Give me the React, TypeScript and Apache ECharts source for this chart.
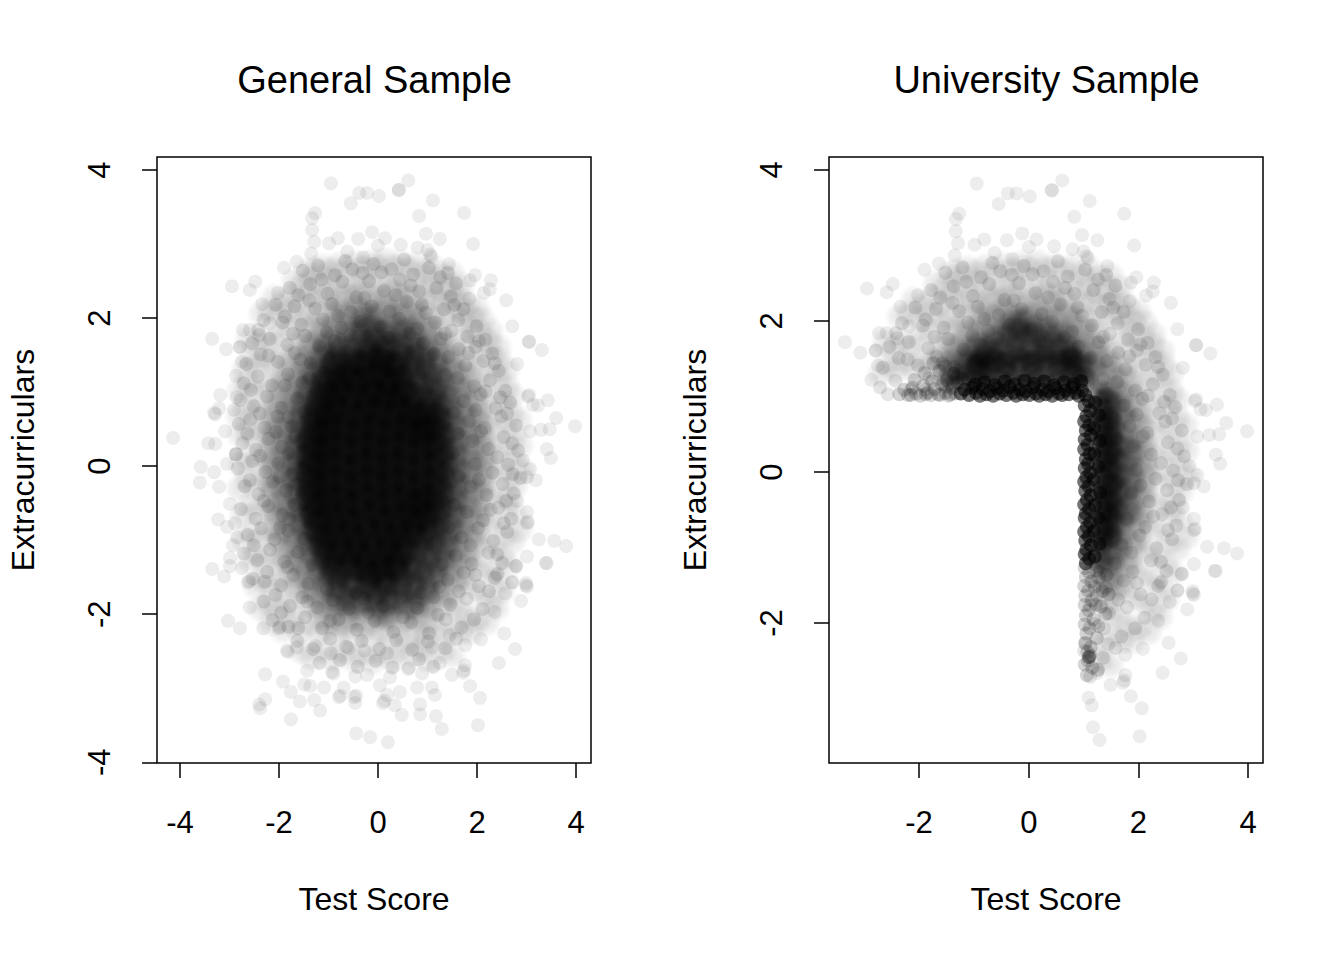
import React, { useEffect, useRef } from "react";
import * as echarts from "echarts";

type P = [number, number];

const generalTitle = "General Sample";
const universityTitle = "University Sample";
const xName = "Test Score";
const yName = "Extracurriculars";
const generalXTicks = [-4, -2, 0, 2, 4];
const generalYTicks = [-4, -2, 0, 2, 4];
const universityXTicks = [-2, 0, 2, 4];
const universityYTicks = [-2, 0, 2, 4];

// isolated observations at the rim of the cloud
const sparsePoints: P[] = [
[-0.95,3.82],[-0.38,3.69],[-0.22,3.69],[0.02,3.65],[-0.55,3.55],[0.42,3.73],[0.42,3.73],[0.61,3.86],[1.11,3.59],[0.83,3.38],[1.74,3.42],[-1.27,3.42],[-1.33,3.35],[-1.33,3.19],[-1.29,3.03],[-0.99,3.01],[-0.81,3.08],[-0.4,3.07],[-0.12,3.16],[0.14,3.08],[0.46,2.99],[0.97,3.14],[1.25,3.07],[1.92,3.0],[0.0,2.98],[0.8,2.95],[1.0,2.92],[1.05,2.86],[1.08,2.83],[-0.62,2.9],[-0.3,2.82],
[-1.9,2.68],[-1.64,2.76],[-1.35,2.87],[-2.95,2.43],[-2.48,2.49],[-2.59,2.38],[-2.34,2.19],[-3.35,1.72],[-3.07,1.58],[2.59,2.24],[2.71,1.89],[3.05,1.68],[3.31,1.57],[2.28,2.51],[1.96,2.58],[1.86,2.51],[2.26,2.39],[2.14,2.34],[1.84,2.26],[1.43,2.73],[-2.02,2.34],[-2.18,1.93],[-2.73,1.84],[-2.59,1.84],[-2.4,1.77],[-2.79,1.61],
[0.2,-3.73],[-0.16,-3.66],[-0.44,-3.61],[1.29,-3.55],[2.02,-3.5],[-1.76,-3.42],[-1.17,-3.3],[-2.38,-3.27],[-2.4,-3.22],[-2.28,-3.15],[-1.58,-3.18],[-1.29,-3.16],[-1.76,-3.05],[-1.92,-2.91],[-2.28,-2.81],[-1.49,-2.95],[-1.37,-2.97],[-1.09,-2.99],[-1.43,-2.76],[-0.93,-2.78],[-0.9,-2.8],[-0.79,-3.12],[-0.76,-3.1],[-0.69,-2.99],[-0.46,-3.2],[-0.48,-3.12],[-0.44,-3.1],[-0.46,-2.84],[-0.22,-2.82],[0.04,-2.96],[0.1,-3.2],[0.13,-3.17],[0.18,-3.09],[0.34,-3.23],[0.48,-3.36],[0.85,-3.22],[0.85,-3.35],[1.17,-3.38],[1.15,-3.09],[1.09,-2.99],[0.79,-2.99],[0.44,-3.05],[0.61,-2.74],[0.63,-2.72],[1.49,-2.82],[1.74,-2.76],[1.72,-2.79],[1.76,-2.69],[1.86,-2.97],[2.06,-3.13],[2.44,-2.66],[2.77,-2.47],[2.55,-2.26],[2.36,-1.97],[2.89,-1.82],[2.57,-1.72],[2.99,-1.61],[3.01,-1.63],[2.71,-1.57],[2.4,-1.47],[2.42,-1.45],[2.79,-1.35],[3.39,-1.31],
[-3.35,-1.39],[-3.11,-1.49],[-2.63,-1.57],[-2.6,-1.55],[-2.59,-1.91],[-3.03,-2.09],[-2.79,-2.19],[-2.32,-2.19],[-2.0,-2.19],[-1.98,-2.17],[-1.84,-2.49],[-1.82,-2.51],[-1.64,-2.45],[-1.27,-2.43],[-0.95,-2.53],[-0.59,-2.46],[-0.28,-2.49],[0.18,-2.53],[1.09,-2.45],[2.08,-2.34],[1.76,-2.42],[1.45,-2.28],[1.25,-2.66],[0.89,-2.8],[0.24,-2.85],
[-2.79,1.61],[-2.75,1.41],[-2.87,1.22],[-3.19,0.96],[-2.85,0.93],[-3.31,0.72],[-3.29,0.7],[-3.21,0.78],[-2.91,0.76],[-4.14,0.38],[-3.09,0.47],[-3.43,0.31],[-3.29,0.3],[-2.87,0.16],[-2.87,0.16],[-2.87,0.16],[-3.05,0.03],[-3.58,-0.01],[-3.31,-0.08],[-3.6,-0.22],[-3.21,-0.28],[-2.99,-0.51],[-3.23,-0.72],[-3.05,-0.82],[-2.89,-0.77],[-2.85,-0.96],[-2.93,-1.07],[-2.99,-1.24],[-2.99,-1.35],[-2.75,-1.38],
[3.05,1.68],[2.81,1.38],[3.05,0.96],[3.03,0.94],[3.43,0.89],[3.23,0.82],[3.13,0.83],[3.6,0.65],[3.98,0.54],[3.07,0.47],[3.29,0.49],[3.47,0.5],[3.41,0.23],[3.49,0.11],[3.07,-0.04],[2.93,0.08],[3.19,-0.19],[3.01,-0.15],[2.81,-0.47],[3.01,-0.62],[3.01,-0.77],[3.03,-0.75],[3.25,-0.99],[3.56,-1.01],[3.8,-1.08],[3.41,-1.31],[3.01,-1.22],[2.79,-1.35],[2.71,-1.57],[2.99,-1.58],
];

// single overlapping observations that give the outer body its mottled look
const texturePoints: P[] = [
[-1.52,2.64],[-1.21,2.71],[-0.87,2.58],[-0.66,2.77],[-0.31,2.61],[-0.09,2.73],[0.27,2.66],[0.53,2.79],[0.71,2.59],[1.03,2.68],[1.26,2.55],[1.58,2.47],[-1.78,2.41],[-1.37,2.46],[-1.02,2.33],[-0.72,2.49],[-0.44,2.28],[-0.18,2.5],[0.12,2.37],[0.44,2.52],[0.83,2.36],[1.18,2.41],[1.47,2.29],[1.73,2.12],[-2.07,2.18],[-1.69,2.16],[-1.27,2.13],[-0.93,2.19],[-0.55,2.08],[-0.13,2.16],[0.24,2.09],[0.58,2.22],[0.97,2.07],[1.33,2.12],[1.62,1.97],[1.99,1.89],[-2.31,1.97],[-1.93,1.94],[-1.55,1.91],[-1.11,1.98],[-0.74,1.87],[-0.36,1.95],[0.05,1.88],[0.43,1.99],[0.79,1.86],[1.15,1.94],[1.48,1.83],[1.81,1.75],[2.17,1.71],
[-2.54,1.66],[-2.19,1.72],[-1.83,1.64],[-1.47,1.76],[-1.19,1.62],[-0.88,1.69],[0.91,1.66],[1.27,1.72],[1.63,1.58],[1.97,1.61],[2.31,1.52],[-2.66,1.38],[-2.37,1.51],[-2.02,1.41],[-1.68,1.53],[-1.36,1.39],[1.42,1.47],[1.76,1.36],[2.13,1.42],[2.44,1.29],[-2.71,1.12],[-2.43,1.21],[-2.14,1.09],[-1.82,1.24],[-1.53,1.13],[1.61,1.19],[1.94,1.08],[2.26,1.16],[2.57,1.02],[-2.78,0.89],[-2.51,0.81],[-2.24,0.94],[-1.95,0.79],[-1.63,0.91],[1.73,0.88],[2.07,0.97],[2.38,0.78],[2.67,0.86],
[-2.81,0.57],[-2.58,0.63],[-2.29,0.52],[-2.03,0.67],[-1.74,0.54],[1.84,0.61],[2.16,0.52],[2.49,0.67],[2.79,0.55],[-2.74,0.31],[-2.47,0.22],[-2.21,0.37],[-1.94,0.26],[-1.67,0.41],[1.91,0.34],[2.23,0.23],[2.54,0.39],[2.83,0.21],[-2.83,-0.03],[-2.54,0.07],[-2.27,-0.08],[-2.01,0.04],[-1.72,-0.11],[1.96,0.03],[2.31,-0.09],[2.63,0.02],[2.88,-0.16],
[-2.69,-0.27],[-2.41,-0.38],[-2.13,-0.21],[-1.86,-0.33],[-1.64,-0.24],[1.87,-0.28],[2.19,-0.39],[2.52,-0.24],[2.74,-0.37],[-2.77,-0.58],[-2.47,-0.71],[-2.22,-0.54],[-1.93,-0.66],[-1.69,-0.52],[1.79,-0.62],[2.12,-0.73],[2.43,-0.56],[2.69,-0.71],[-2.63,-0.93],[-2.36,-0.84],[-2.09,-0.99],[-1.81,-0.87],[1.69,-0.96],[2.02,-0.84],[2.33,-1.01],[2.61,-0.89],[-2.71,-1.18],[-2.44,-1.27],[-2.18,-1.13],[-1.89,-1.29],[-1.62,-1.16],[1.57,-1.21],[1.89,-1.32],[2.23,-1.17],[2.51,-1.31],
[-2.53,-1.52],[-2.24,-1.43],[-1.96,-1.61],[-1.71,-1.47],[-1.41,-1.59],[1.41,-1.53],[1.73,-1.44],[2.04,-1.62],[2.36,-1.51],[-2.31,-1.83],[-2.07,-1.74],[-1.78,-1.89],[-1.53,-1.77],[-1.22,-1.91],[-0.91,-1.81],[-0.58,-1.93],[-0.27,-1.79],[0.11,-1.89],[0.47,-1.78],[0.79,-1.92],[1.12,-1.77],[1.46,-1.87],[1.79,-1.79],[2.11,-1.93],[-2.13,-2.08],[-1.81,-2.17],[-1.47,-2.04],[-1.13,-2.19],[-0.79,-2.07],[-0.43,-2.21],[-0.07,-2.09],[0.31,-2.24],[0.67,-2.11],[1.03,-2.26],[1.37,-2.07],[1.69,-2.18],[1.94,-2.07],
[-1.63,-2.36],[-1.31,-2.47],[-0.97,-2.33],[-0.64,-2.44],[-0.33,-2.36],[0.03,-2.47],[0.37,-2.35],[0.69,-2.48],[1.01,-2.37],[1.36,-2.46],[-1.18,-2.66],[-0.77,-2.62],[-0.41,-2.71],[-0.05,-2.63],[0.29,-2.72],[0.83,-2.61],[1.12,-2.71],
[-1.61,2.31],[-1.14,2.52],[-0.52,2.66],[0.07,2.62],[0.66,2.44],[1.41,2.61],[-1.88,2.02],[-1.39,2.24],[-0.81,2.03],[-0.27,2.27],[0.35,2.31],[0.89,2.18],[1.54,2.18],[-2.42,1.84],[-1.72,1.79],[-1.03,1.81],[-0.56,1.77],[0.21,1.73],[0.64,1.79],[1.36,1.79],[2.04,1.69],[-2.21,1.49],[-1.57,1.44],[-0.97,1.46],[1.13,1.51],[1.83,1.53],[2.36,1.39],[-2.57,1.03],[-1.88,1.09],[-1.38,1.19],[1.36,1.23],[2.17,1.01],[2.47,0.93],[-2.39,0.71],[-1.81,0.66],[-1.49,0.73],[1.53,0.72],[1.97,0.76],[2.61,0.71],[-2.64,0.44],[-2.06,0.46],[-1.56,0.33],[1.61,0.44],[2.08,0.47],[2.71,0.31],[-2.38,0.14],[-1.81,0.17],[-1.49,-0.03],[1.51,0.17],[2.41,0.12],[2.72,-0.11],[-2.59,-0.19],[-1.99,-0.14],[-1.53,-0.37],[1.63,-0.14],[2.04,-0.18],[2.59,-0.47],[-2.31,-0.47],[-1.79,-0.71],[-1.44,-0.63],[1.54,-0.52],[2.27,-0.59],[2.54,-0.77],[-2.51,-1.07],[-1.98,-0.83],[-1.49,-0.98],[1.43,-0.83],[1.87,-1.07],[2.41,-1.19],[-2.29,-1.56],[-1.83,-1.36],[-1.33,-1.34],[1.29,-1.33],[1.97,-1.47],[2.24,-1.69],[-1.96,-1.98],[-1.43,-1.83],[-1.03,-1.66],[-0.44,-1.71],[0.26,-1.67],[0.87,-1.71],[1.24,-1.63],[1.63,-1.69],[-1.61,-2.19],[-0.97,-2.09],[-0.19,-1.98],[0.51,-2.04],[1.21,-2.01],[1.58,-2.33],
];

// outer-band density
const thinPoints: P[] = [
[-1.45,2.62],[-1.3,2.66],[-1.12,2.7],[-0.95,2.64],[-0.8,2.72],[-0.62,2.68],[-0.45,2.74],[-0.3,2.66],[-0.14,2.76],[-0.02,2.7],[0.16,2.78],[0.3,2.68],[0.48,2.74],[0.62,2.66],[0.8,2.72],[0.97,2.62],[1.12,2.68],[1.3,2.58],[1.5,2.6],[1.68,2.44],
[-1.7,2.5],[-1.52,2.42],[-1.34,2.5],[-1.16,2.44],[-0.98,2.52],[-0.82,2.4],[-0.66,2.5],[-0.48,2.42],[-0.3,2.52],[-0.12,2.44],[0.06,2.54],[0.22,2.42],[0.4,2.5],[0.58,2.4],[0.76,2.5],[0.92,2.4],[1.1,2.46],[1.28,2.38],[1.46,2.42],[1.62,2.3],[1.8,2.2],[2.0,2.12],
[-2.1,2.28],[-1.92,2.2],[-1.74,2.3],[-1.58,2.22],[-1.4,2.3],[-1.22,2.24],[-1.04,2.3],[-0.86,2.22],[0.96,2.22],[1.14,2.26],[1.32,2.2],[1.5,2.24],[1.7,2.1],[1.9,2.0],[2.12,1.98],[2.28,1.82],
[-2.36,2.06],[-2.16,2.1],[-1.98,2.02],[-1.78,2.08],[-1.6,2.0],[-1.42,2.06],[1.3,2.02],[1.5,2.06],[1.68,1.94],[1.88,1.84],[2.06,1.8],[2.26,1.68],[2.44,1.6],
[-2.62,1.72],[-2.46,1.62],[-2.3,1.74],[-2.14,1.66],[-1.96,1.78],[-1.8,1.86],[1.72,1.72],[1.9,1.62],[2.08,1.56],[2.28,1.48],[2.46,1.42],[2.6,1.3],
[-2.7,1.3],[-2.56,1.44],[-2.42,1.34],[-2.26,1.46],[-2.1,1.36],[-1.94,1.5],[1.88,1.38],[2.06,1.3],[2.24,1.22],[2.42,1.18],[2.6,1.08],[2.72,0.96],
[-2.8,1.02],[-2.64,1.12],[-2.5,0.98],[-2.34,1.12],[-2.18,1.02],[-2.02,1.16],[2.0,1.08],[2.18,0.96],[2.36,0.9],[2.54,0.84],[2.7,0.72],[2.86,0.62],
[-2.82,0.66],[-2.68,0.78],[-2.52,0.66],[-2.38,0.8],[-2.24,0.7],[-2.1,0.86],[2.06,0.74],[2.24,0.66],[2.4,0.58],[2.56,0.5],[2.74,0.4],[2.88,0.28],
[-2.78,0.42],[-2.62,0.48],[-2.46,0.36],[-2.32,0.5],[-2.18,0.38],[-2.08,0.56],[2.1,0.42],[2.26,0.32],[2.44,0.24],[2.6,0.16],[2.76,0.06],[2.9,-0.06],
[-2.76,0.02],[-2.6,0.14],[-2.44,0.04],[-2.3,0.18],[-2.16,0.06],[2.12,0.1],[2.28,0.0],[2.46,-0.08],[2.62,-0.16],[2.78,-0.26],[2.66,-0.42],
[-2.8,-0.3],[-2.64,-0.18],[-2.48,-0.3],[-2.32,-0.16],[-2.16,-0.28],[2.1,-0.24],[2.28,-0.34],[2.44,-0.44],[2.6,-0.56],[2.76,-0.66],[2.88,-0.86],
[-2.74,-0.66],[-2.58,-0.52],[-2.42,-0.64],[-2.26,-0.5],[-2.1,-0.62],[2.08,-0.58],[2.24,-0.7],[2.4,-0.8],[2.56,-0.92],[2.72,-1.02],
[-2.7,-1.0],[-2.54,-0.88],[-2.38,-1.0],[-2.22,-0.86],[-2.06,-0.98],[2.02,-0.92],[2.18,-1.04],[2.34,-1.12],[2.5,-1.22],[2.64,-1.34],
[-2.6,-1.28],[-2.46,-1.18],[-2.3,-1.32],[-2.14,-1.2],[-1.98,-1.34],[1.92,-1.24],[2.08,-1.36],[2.24,-1.44],[2.4,-1.54],[2.52,-1.68],
[-2.48,-1.62],[-2.32,-1.52],[-2.16,-1.64],[-2.0,-1.54],[-1.84,-1.68],[1.76,-1.56],[1.92,-1.66],[2.1,-1.74],[2.26,-1.84],[2.4,-1.92],
[-2.38,-1.92],[-2.2,-1.84],[-2.04,-1.96],[-1.88,-1.86],[-1.72,-1.98],[1.48,-1.84],[1.64,-1.94],[1.82,-2.02],[2.0,-2.08],[2.2,-2.12],
[-2.16,-2.12],[-1.92,-2.22],[-1.74,-2.12],[-1.56,-2.24],[-1.38,-2.12],[-1.2,-2.26],[-1.02,-2.16],[-0.84,-2.28],[-0.66,-2.18],[-0.48,-2.3],[-0.3,-2.2],[-0.12,-2.32],[0.06,-2.22],[0.24,-2.34],[0.42,-2.22],[0.6,-2.36],[0.78,-2.24],[0.96,-2.32],[1.14,-2.18],[1.32,-2.3],[1.5,-2.14],[1.68,-2.24],[1.88,-2.24],
[-1.56,-2.5],[-1.34,-2.58],[-1.12,-2.48],[-0.9,-2.6],[-0.72,-2.5],[-0.5,-2.62],[-0.32,-2.54],[-0.1,-2.64],[0.06,-2.52],[0.3,-2.62],[0.46,-2.5],[0.72,-2.54],[0.9,-2.46],[1.02,-2.62],[1.3,-2.48],[1.5,-2.56],
];

// body density around the core
const mediumPoints: P[] = [
[-0.62,2.2],[-0.3,2.24],[0.02,2.18],[0.32,2.25],[0.62,2.19],
[-1.05,2.02],[-0.76,1.98],[-0.48,2.04],[-0.2,1.97],[0.1,2.03],[0.38,1.96],[0.66,2.03],[0.94,1.98],
[-1.34,1.8],[-1.06,1.76],[-0.78,1.82],[-0.5,1.77],[-0.22,1.83],[0.06,1.76],[0.34,1.82],[0.62,1.77],[0.9,1.83],[1.18,1.77],
[-1.52,1.6],[-1.24,1.56],[-0.96,1.61],[-0.7,1.56],[0.62,1.6],[0.88,1.55],[1.14,1.61],[1.4,1.57],
[-1.66,1.4],[-1.38,1.36],[-1.1,1.42],[-0.86,1.37],[0.84,1.42],[1.1,1.36],[1.36,1.41],[1.62,1.36],
[-1.78,1.2],[-1.5,1.16],[-1.24,1.22],[-1.0,1.17],[0.94,1.21],[1.2,1.15],[1.46,1.2],[1.72,1.15],
[-1.86,1.0],[-1.6,0.96],[-1.34,1.02],[-1.1,0.97],[1.06,1.0],[1.3,0.95],[1.56,1.01],[1.82,0.96],
[-1.94,0.8],[-1.68,0.76],[-1.44,0.82],[-1.2,0.77],[1.14,0.8],[1.38,0.75],[1.64,0.81],[1.9,0.76],
[-1.98,0.6],[-1.74,0.56],[-1.48,0.62],[-1.26,0.57],[1.18,0.6],[1.44,0.55],[1.7,0.61],[1.96,0.56],
[-2.02,0.4],[-1.78,0.36],[-1.54,0.42],[-1.3,0.37],[1.22,0.4],[1.48,0.35],[1.74,0.41],[2.0,0.36],
[-2.04,0.2],[-1.8,0.16],[-1.56,0.22],[-1.32,0.17],[1.24,0.2],[1.5,0.15],[1.76,0.21],[2.02,0.16],
[-2.05,0.0],[-1.82,-0.04],[-1.58,0.02],[-1.34,-0.03],[1.26,0.0],[1.52,-0.05],[1.78,0.01],[2.04,-0.04],
[-2.05,-0.2],[-1.82,-0.24],[-1.58,-0.18],[-1.34,-0.23],[1.24,-0.2],[1.5,-0.25],[1.76,-0.19],[2.0,-0.24],
[-2.03,-0.4],[-1.78,-0.44],[-1.54,-0.38],[-1.3,-0.43],[1.22,-0.4],[1.48,-0.45],[1.74,-0.39],[1.98,-0.44],
[-1.98,-0.6],[-1.74,-0.64],[-1.5,-0.58],[-1.26,-0.63],[1.18,-0.6],[1.44,-0.65],[1.7,-0.59],[1.94,-0.64],
[-1.94,-0.8],[-1.68,-0.84],[-1.44,-0.78],[-1.2,-0.83],[1.12,-0.8],[1.38,-0.85],[1.62,-0.79],[1.88,-0.84],
[-1.86,-1.0],[-1.6,-1.04],[-1.34,-0.98],[-1.1,-1.03],[1.04,-1.0],[1.3,-1.05],[1.54,-0.99],[1.8,-1.04],
[-1.76,-1.2],[-1.5,-1.24],[-1.24,-1.18],[-1.0,-1.23],[0.94,-1.2],[1.2,-1.25],[1.46,-1.19],[1.7,-1.24],
[-1.66,-1.4],[-1.38,-1.44],[-1.1,-1.38],[-0.86,-1.43],[0.8,-1.4],[1.06,-1.45],[1.34,-1.39],[1.6,-1.44],
[-1.52,-1.6],[-1.24,-1.64],[-0.96,-1.58],[-0.7,-1.63],[0.62,-1.6],[0.88,-1.65],[1.14,-1.59],[1.42,-1.64],
[-1.32,-1.8],[-1.04,-1.84],[-0.76,-1.78],[-0.48,-1.83],[-0.2,-1.77],[0.08,-1.82],[0.36,-1.76],[0.64,-1.83],[0.92,-1.78],[1.2,-1.84],
[-1.04,-2.0],[-0.76,-2.04],[-0.48,-1.98],[-0.2,-2.03],[0.1,-1.97],[0.38,-2.03],[0.66,-1.97],[0.94,-2.03],
];

// overlap so heavy in the middle of the general sample that it reads as solid
const corePoints: P[] = [
[-0.35,1.52],[-0.02,1.56],[0.28,1.5],
[-0.72,1.32],[-0.42,1.28],[-0.1,1.34],[0.22,1.27],[0.5,1.33],
[-0.92,1.08],[-0.6,1.1],[-0.28,1.05],[0.03,1.1],[0.34,1.04],[0.66,1.09],
[-1.02,0.84],[-0.72,0.87],[-0.4,0.82],[-0.08,0.88],[0.22,0.83],[0.54,0.86],[0.84,0.81],
[-1.12,0.6],[-0.82,0.63],[-0.5,0.58],[-0.18,0.64],[0.14,0.59],[0.46,0.63],[0.78,0.57],[1.0,0.62],
[-1.18,0.36],[-0.86,0.4],[-0.54,0.35],[-0.22,0.41],[0.1,0.36],[0.42,0.4],[0.74,0.35],[1.04,0.39],
[-1.2,0.12],[-0.88,0.16],[-0.56,0.11],[-0.24,0.17],[0.08,0.12],[0.4,0.16],[0.72,0.11],[1.06,0.15],
[-1.2,-0.12],[-0.88,-0.08],[-0.56,-0.13],[-0.24,-0.07],[0.08,-0.12],[0.4,-0.08],[0.72,-0.13],[1.06,-0.09],
[-1.18,-0.36],[-0.86,-0.32],[-0.54,-0.37],[-0.22,-0.31],[0.1,-0.36],[0.42,-0.32],[0.74,-0.37],[1.04,-0.33],
[-1.14,-0.6],[-0.82,-0.56],[-0.5,-0.61],[-0.18,-0.55],[0.14,-0.6],[0.46,-0.56],[0.78,-0.61],[1.0,-0.57],
[-1.04,-0.84],[-0.72,-0.8],[-0.4,-0.85],[-0.08,-0.79],[0.24,-0.84],[0.56,-0.8],[0.86,-0.85],
[-0.92,-1.08],[-0.6,-1.04],[-0.28,-1.09],[0.04,-1.03],[0.36,-1.08],[0.66,-1.04],
[-0.74,-1.32],[-0.42,-1.28],[-0.1,-1.33],[0.22,-1.27],[0.52,-1.32],
[-0.36,-1.52],[-0.02,-1.56],[0.28,-1.5],
];

// stacked observations hugging the selection edges of the university sample
const edgeDensePoints: P[] = [
[-1.24,1.04],[-1.17,1.09],[-1.09,1.02],[-1.03,1.12],[-0.96,1.05],[-0.89,1.01],[-0.84,1.1],[-0.77,1.03],[-0.71,1.07],[-0.65,1.01],[-0.58,1.11],[-0.53,1.04],[-0.46,1.08],[-0.41,1.02],[-0.35,1.13],[-0.28,1.05],[-0.23,1.01],[-0.17,1.09],[-0.11,1.03],[-0.05,1.07],[0.01,1.02],[0.07,1.12],[0.13,1.04],[0.19,1.01],[0.25,1.09],[0.31,1.03],[0.37,1.07],[0.43,1.01],[0.49,1.11],[0.55,1.04],[0.61,1.02],[0.67,1.08],[0.73,1.03],[0.79,1.12],[0.85,1.05],[0.91,1.01],[0.97,1.08],
[-0.98,1.16],[-0.81,1.19],[-0.62,1.15],[-0.44,1.2],[-0.26,1.16],[-0.08,1.21],[0.1,1.17],[0.28,1.2],[0.46,1.15],[0.64,1.19],[0.82,1.16],[0.96,1.2],
[1.03,1.02],[1.09,0.94],[1.02,0.88],[1.12,0.81],[1.05,0.74],[1.01,0.67],[1.1,0.62],[1.04,0.55],[1.13,0.49],[1.02,0.43],[1.07,0.36],[1.01,0.3],[1.11,0.24],[1.04,0.17],[1.08,0.11],[1.02,0.05],[1.12,-0.01],[1.05,-0.07],[1.01,-0.13],[1.09,-0.19],[1.03,-0.25],[1.13,-0.31],[1.06,-0.37],[1.01,-0.43],[1.1,-0.49],[1.04,-0.55],[1.02,-0.61],[1.12,-0.67],[1.06,-0.73],[1.01,-0.79],[1.09,-0.85],[1.03,-0.91],[1.13,-0.97],[1.05,-1.03],[1.02,-1.09],[1.1,-1.15],[1.04,-1.21],
[1.21,0.92],[1.28,0.75],[1.19,0.58],[1.3,0.41],[1.2,0.24],[1.27,0.07],[1.18,-0.1],[1.3,-0.27],[1.21,-0.44],[1.27,-0.61],[1.19,-0.78],[1.29,-0.95],[1.2,-1.12],
];

// the fading tips of the two edges
const edgeFaintPoints: P[] = [
[-2.36,1.03],[-2.27,1.09],[-2.2,1.02],[-2.12,1.12],[-2.05,1.04],[-1.98,1.01],[-1.92,1.14],[-1.85,1.05],[-1.78,1.02],[-1.72,1.1],[-1.65,1.03],[-1.58,1.16],[-1.52,1.05],[-1.46,1.01],[-1.4,1.11],[-1.34,1.04],[-1.29,1.18],[-2.15,1.02],[-1.88,1.03],[-1.62,1.02],[-1.43,1.03],
[-2.08,1.22],[-1.9,1.31],[-1.76,1.2],[-1.63,1.34],[-1.49,1.22],[-1.37,1.3],[-1.22,1.24],[-1.74,1.44],[-1.52,1.4],
[1.02,-1.27],[1.1,-1.33],[1.04,-1.39],[1.14,-1.45],[1.01,-1.51],[1.08,-1.57],[1.03,-1.64],[1.15,-1.7],[1.02,-1.76],[1.09,-1.83],[1.04,-1.9],[1.18,-1.95],[1.02,-2.02],[1.11,-2.07],[1.05,-2.14],[1.24,-2.2],[1.03,-2.27],[1.13,-2.32],[1.07,-2.38],[1.1,-2.45],[1.1,-2.45],[1.12,-2.43],[1.08,-2.5],[1.02,-2.55],[1.16,-2.59],[1.28,-1.4],[1.34,-1.58],[1.22,-1.76],[1.4,-1.88],[1.27,-2.04],[1.06,-2.69],[1.26,-2.62],
[1.24,-1.3],[1.42,-1.36],[1.2,-1.52],[1.46,-1.62],[1.32,-1.78],
];

// dark mass just inside the two edges
const edgeBlobPoints: P[] = [
[-1.42,1.22],[-1.2,1.26],[-0.98,1.21],[-0.78,1.27],[-0.58,1.22],[-0.38,1.28],[-0.18,1.22],[0.02,1.27],[0.22,1.22],[0.42,1.27],[0.62,1.22],[0.82,1.27],[1.02,1.22],
[-0.9,1.44],[-0.66,1.48],[-0.42,1.43],[-0.18,1.5],[0.06,1.44],[0.3,1.5],[0.54,1.44],[0.78,1.48],
[1.3,1.05],[1.3,0.82],[1.44,0.94],[1.3,0.6],[1.46,0.7],[1.3,0.38],[1.46,0.48],[1.3,0.16],[1.46,0.26],[1.3,-0.06],[1.46,0.04],[1.3,-0.28],[1.46,-0.18],[1.3,-0.5],[1.46,-0.4],[1.3,-0.72],[1.46,-0.62],[1.3,-0.94],[1.46,-0.84],[1.3,-1.16],
];

// softer shoulder of the mass further from the edges
const shoulderPoints: P[] = [
[-1.3,1.42],[-1.05,1.36],[-0.8,1.44],[-0.55,1.36],[-0.3,1.44],[-0.05,1.36],[0.2,1.44],[0.45,1.36],[0.7,1.44],[0.95,1.36],
[-0.5,1.54],[-0.2,1.56],[0.05,1.54],[0.3,1.56],
[-0.85,1.62],[-0.6,1.68],[-0.35,1.6],[-0.1,1.7],[0.15,1.6],[0.4,1.68],[0.65,1.6],
[-0.3,1.88],[-0.05,1.95],[0.2,1.86],
[1.42,0.95],[1.6,0.78],[1.42,0.6],[1.62,0.42],[1.42,0.25],[1.64,0.08],[1.42,-0.1],[1.62,-0.28],[1.42,-0.45],[1.6,-0.62],[1.42,-0.8],[1.56,-0.98],[1.42,-1.15],[1.8,0.25],[1.8,-0.12],[1.78,-0.48],[1.4,-1.4],
];

const coreSize = 50;
const mediumSize = 42;
const innerSize = 38;
const thinSize = 30;
const edgeBlobSize = 30;
const shoulderSize = 40;
const dotSize = 14;

const inUniversity = (p: P) => p[0] >= 1 || p[1] >= 1;
// a soft mass of radius r px stays inside the selected region
const massInUniversity = (size: number) => (p: P) => p[1] >= 1 + size / 2 / 75.5 || p[0] >= 1 + size / 2 / 54.8;
// the part of the body nearest the core is darker
const innerBody = (p: P) => (p[0] / 1.7) ** 2 + (p[1] / 2.0) ** 2 < 1;

const font = "'Liberation Sans', Arimo, Helvetica, Arial, sans-serif";

function axisCommon(ticks: number[], min: number, max: number, name: string, gap: number, gridIndex: number, rotate: number, margin: number) {
  return {
    type: "value" as const,
    gridIndex,
    min,
    max,
    name,
    nameLocation: "middle" as const,
    nameGap: gap,
    nameMoveOverlap: false,
    nameTextStyle: { color: "#000", fontSize: 32, fontFamily: font },
    splitLine: { show: false },
    axisLine: { show: false, onZero: false },
    axisTick: { show: true, length: 15, inside: false, customValues: ticks, lineStyle: { color: "#000", width: 1.5 } },
    axisLabel: { show: true, rotate, color: "#000", fontSize: 31, fontFamily: font, margin, customValues: ticks, formatter: (v: number) => String(v), hideOverlap: false, showMinLabel: true, showMaxLabel: true },
  };
}

function dots(data: P[], opacity: number, axisIndex: number) {
  return {
    type: "scatter" as const,
    xAxisIndex: axisIndex,
    yAxisIndex: axisIndex,
    data,
    symbol: "circle",
    symbolSize: dotSize,
    silent: true,
    itemStyle: { color: "#000", opacity, borderWidth: 0 },
  };
}

function mass(data: P[], alpha: number, size: number, axisIndex: number) {
  return {
    type: "scatter" as const,
    xAxisIndex: axisIndex,
    yAxisIndex: axisIndex,
    data,
    symbol: "circle",
    symbolSize: size,
    silent: true,
    itemStyle: {
      borderWidth: 0,
      color: {
        type: "radial",
        x: 0.5,
        y: 0.5,
        r: 0.5,
        colorStops: [
          { offset: 0, color: `rgba(0,0,0,${alpha})` },
          { offset: 0.6, color: `rgba(0,0,0,${alpha * 0.55})` },
          { offset: 1, color: "rgba(0,0,0,0)" },
        ],
      },
    },
  };
}

export default function App() {
  const ref = useRef<HTMLDivElement>(null);
  useEffect(() => {
    const chart = echarts.init(ref.current!, undefined, { renderer: "svg" });
    const titleStyle = { color: "#000", fontSize: 38, fontWeight: "normal", fontFamily: font };
    const innerMedium = mediumPoints.filter(innerBody);
    chart.setOption({
      animation: false,
      backgroundColor: "#fff",
      title: [
        { text: generalTitle, left: 374.5, top: 61, padding: 0, textAlign: "center", textStyle: titleStyle },
        { text: universityTitle, left: 1046.5, top: 61, padding: 0, textAlign: "center", textStyle: titleStyle },
      ],
      grid: [
        { left: 157, top: 157, width: 434, height: 606, show: true, borderColor: "#000", borderWidth: 1.5, backgroundColor: "transparent", outerBoundsMode: "none" },
        { left: 829, top: 157, width: 434, height: 606, show: true, borderColor: "#000", borderWidth: 1.5, backgroundColor: "transparent", outerBoundsMode: "none" },
      ],
      xAxis: [
        axisCommon(generalXTicks, -4.465, 4.303, xName, 120, 0, 0, 44),
        axisCommon(universityXTicks, -3.642, 4.27, xName, 120, 1, 0, 44),
      ],
      yAxis: [
        axisCommon(generalYTicks, -4.01, 4.176, yName, 118, 0, 90, 42),
        axisCommon(universityYTicks, -3.854, 4.172, yName, 118, 1, 90, 42),
      ],
      series: [
        mass(thinPoints, 0.14, thinSize, 0),
        mass(mediumPoints, 0.29, mediumSize, 0),
        mass(innerMedium, 0.45, innerSize, 0),
        mass(corePoints, 1, coreSize, 0),
        dots(sparsePoints, 0.07, 0),
        dots(texturePoints, 0.1, 0),
        mass(thinPoints.filter(massInUniversity(thinSize)), 0.14, thinSize, 1),
        mass(mediumPoints.filter(massInUniversity(mediumSize)), 0.29, mediumSize, 1),
        mass(innerMedium.filter(massInUniversity(innerSize)), 0.4, innerSize, 1),
        mass(shoulderPoints, 0.4, shoulderSize, 1),
        mass(edgeBlobPoints, 0.8, edgeBlobSize, 1),
        dots(sparsePoints.filter(inUniversity), 0.07, 1),
        dots(texturePoints.filter(inUniversity), 0.1, 1),
        dots(edgeFaintPoints, 0.17, 1),
        dots(edgeDensePoints, 0.55, 1),
      ],
    });
    return () => chart.dispose();
  }, []);
  return <div ref={ref} style={{ position: "absolute", left: 0, top: 0, width: 1344, height: 960 }} />;
}
